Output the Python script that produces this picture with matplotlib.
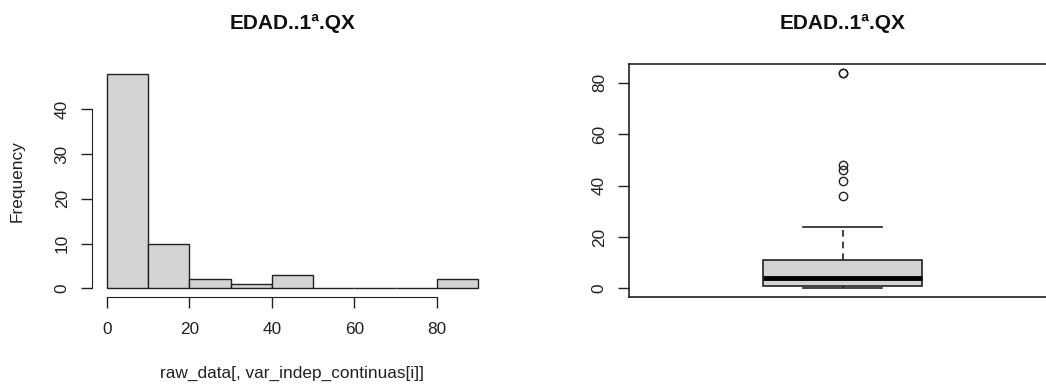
import matplotlib
matplotlib.use("Agg")
from matplotlib import pyplot as plt

plt.rcParams['font.family'] = ['Liberation Sans', 'DejaVu Sans']

title = "EDAD..1ª.QX"
xlabel = "raw_data[, var_indep_continuas[i]]"

# histogram: bin edges and counts
bin_edges = [0, 10, 20, 30, 40, 50, 60, 70, 80, 90]
counts = [48, 10, 2, 1, 3, 0, 0, 0, 2]

# boxplot summary (same variable)
box_whislo = 0
box_q1 = 1
box_med = 4
box_q3 = 11
box_whishi = 24
outliers = [36, 42, 46, 48, 84, 84]

fill = "#D3D3D3"
ink = "#222222"
fs = 12.4

fig = plt.figure(figsize=(10.46, 3.87), dpi=100)

# ---- histogram ----
ax1 = fig.add_axes([92 / 1046, 1 - 297 / 387, 401 / 1046, 232 / 387])
lefts = bin_edges[:-1]
widths = [b - a for a, b in zip(bin_edges[:-1], bin_edges[1:])]
ax1.bar(lefts, counts, width=widths, align="edge", color=fill,
        edgecolor=ink, linewidth=1.0)
span_x = bin_edges[-1] - bin_edges[0]
span_y = max(counts)
ax1.set_xlim(bin_edges[0] - 0.04 * span_x, bin_edges[-1] + 0.04 * span_x)
ax1.set_ylim(-0.04 * span_y, span_y * 1.04)
ax1.set_xticks([0, 20, 40, 60, 80])
ax1.set_yticks([0, 10, 20, 30, 40])
for s in ["top", "right"]:
    ax1.spines[s].set_visible(False)
ax1.spines["left"].set_bounds(0, 40)
ax1.spines["bottom"].set_bounds(0, 80)
for s in ["left", "bottom"]:
    ax1.spines[s].set_color(ink)
ax1.tick_params(axis="x", length=8, width=1, color=ink, pad=10,
                labelsize=fs, labelcolor=ink)
ax1.tick_params(axis="y", length=8, width=1, color=ink, pad=8,
                labelsize=fs, labelcolor=ink, labelrotation=90)
for lab in ax1.get_yticklabels():
    lab.set_va("center")
ax1.set_xlabel(xlabel, fontsize=fs, labelpad=21, color=ink)
ax1.set_ylabel("Frequency", fontsize=fs, labelpad=22, color=ink)
fig.text(292.5 / 1046, 1 - 23 / 387, title, fontsize=15, fontweight="bold",
         ha="center", va="center", color="#111111")

# ---- boxplot ----
ax2 = fig.add_axes([629 / 1046, 1 - 297 / 387, 427 / 1046, 233 / 387])
stats = [{
    "whislo": box_whislo, "q1": box_q1, "med": box_med,
    "q3": box_q3, "whishi": box_whishi, "fliers": outliers,
}]
ax2.bxp(stats, positions=[1], widths=0.4, patch_artist=True,
        boxprops=dict(facecolor=fill, edgecolor=ink, linewidth=1.2),
        medianprops=dict(color="black", linewidth=3.5, solid_capstyle="butt"),
        whiskerprops=dict(color=ink, linewidth=1.2, linestyle=(0, (4, 3))),
        capprops=dict(color=ink, linewidth=1.2),
        capwidths=0.2,
        flierprops=dict(marker="o", markerfacecolor="none",
                        markeredgecolor=ink, markersize=6, markeredgewidth=1))
top = max(outliers)
ax2.set_xlim(0.46, 1.54)
ax2.set_ylim(-0.04 * top, top * 1.04)
ax2.set_xticks([])
ax2.set_yticks([0, 20, 40, 60, 80])
for s in ax2.spines.values():
    s.set_color(ink)
    s.set_linewidth(1.2)
ax2.tick_params(axis="y", length=8, width=1, color=ink, pad=8,
                labelsize=fs, labelcolor=ink, labelrotation=90)
for lab in ax2.get_yticklabels():
    lab.set_va("center")
fig.text(843 / 1046, 1 - 23 / 387, title, fontsize=15, fontweight="bold",
         ha="center", va="center", color="#111111")

fig.savefig("out.png", dpi=100)
